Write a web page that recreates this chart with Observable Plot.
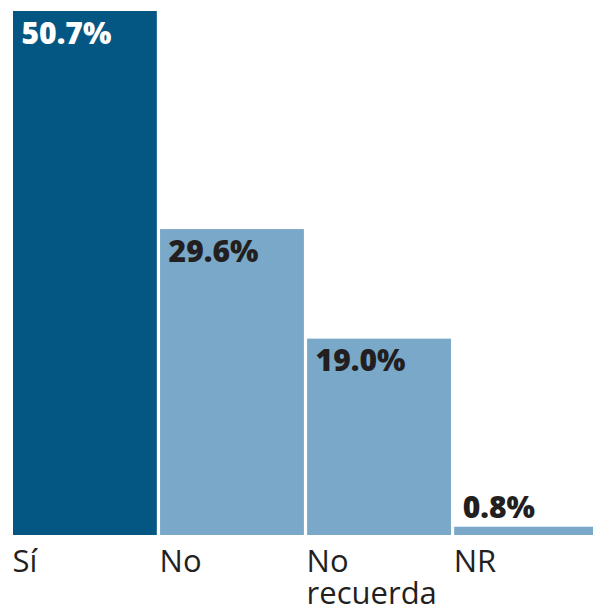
<!DOCTYPE html>
<html>
<head>
<meta charset="utf-8">
<script src="https://cdn.jsdelivr.net/npm/d3@7"></script>
<script src="https://cdn.jsdelivr.net/npm/@observablehq/plot@0.6"></script>
<style>
  html, body { margin: 0; padding: 0; background: #fff; }
  svg { display: block; }
</style>
</head>
<body>
<div id="chart"></div>
<script>
const categories = ["Sí", "No", "No\nrecuerda", "NR"];
const values = [50.7, 29.6, 19.0, 0.8];
const valueLabels = ["50.7%", "29.6%", "19.0%", "0.8%"];
const barColors = ["#035782", "#79a8c8", "#79a8c8", "#79a8c8"];
const textColors = ["#ffffff", "#231f20", "#231f20", "#231f20"];

const data = categories.map((c, i) => ({
  cat: c, value: values[i], label: valueLabels[i],
  fill: barColors[i], textFill: textColors[i], inside: values[i] > 5
}));

const width = 593, height = 606;
const x0 = 13, x1 = 598, pad = 0.022;
const step = (x1 - x0) / (categories.length - pad);
const bw = step * (1 - pad);

const chart = Plot.plot({
  width, height,
  marginTop: 11, marginBottom: 71, marginLeft: x0, marginRight: 0,
  x: { type: "band", domain: categories, range: [x0, x1], paddingInner: pad, paddingOuter: 0, round: false, axis: null },
  y: { domain: [0, 50.7], axis: null },
  style: { fontFamily: "'Open Sans', sans-serif", background: "#fff", overflow: "hidden" },
  marks: [
    Plot.barY(data, { x: "cat", y: "value", fill: d => d.fill }),
    Plot.text(data.filter(d => d.inside), {
      x: "cat", y: "value", text: "label", fill: d => d.textFill,
      textAnchor: "start", lineAnchor: "bottom", dx: -bw / 2 + 8, dy: 32,
      fontSize: 30, fontWeight: 800
    }),
    Plot.text(data.filter(d => !d.inside), {
      x: "cat", y: "value", text: "label", fill: d => d.textFill,
      textAnchor: "start", lineAnchor: "bottom", dx: -bw / 2 + 8, dy: -9,
      fontSize: 30, fontWeight: 800
    }),
    Plot.text(data, {
      x: "cat", y: 0, text: "cat", fill: "#231f20",
      textAnchor: "start", lineAnchor: "top", dx: -bw / 2 - 1, dy: 13,
      fontSize: 31, lineHeight: 1.05
    })
  ]
});
document.getElementById("chart").append(chart);
</script>
</body>
</html>
